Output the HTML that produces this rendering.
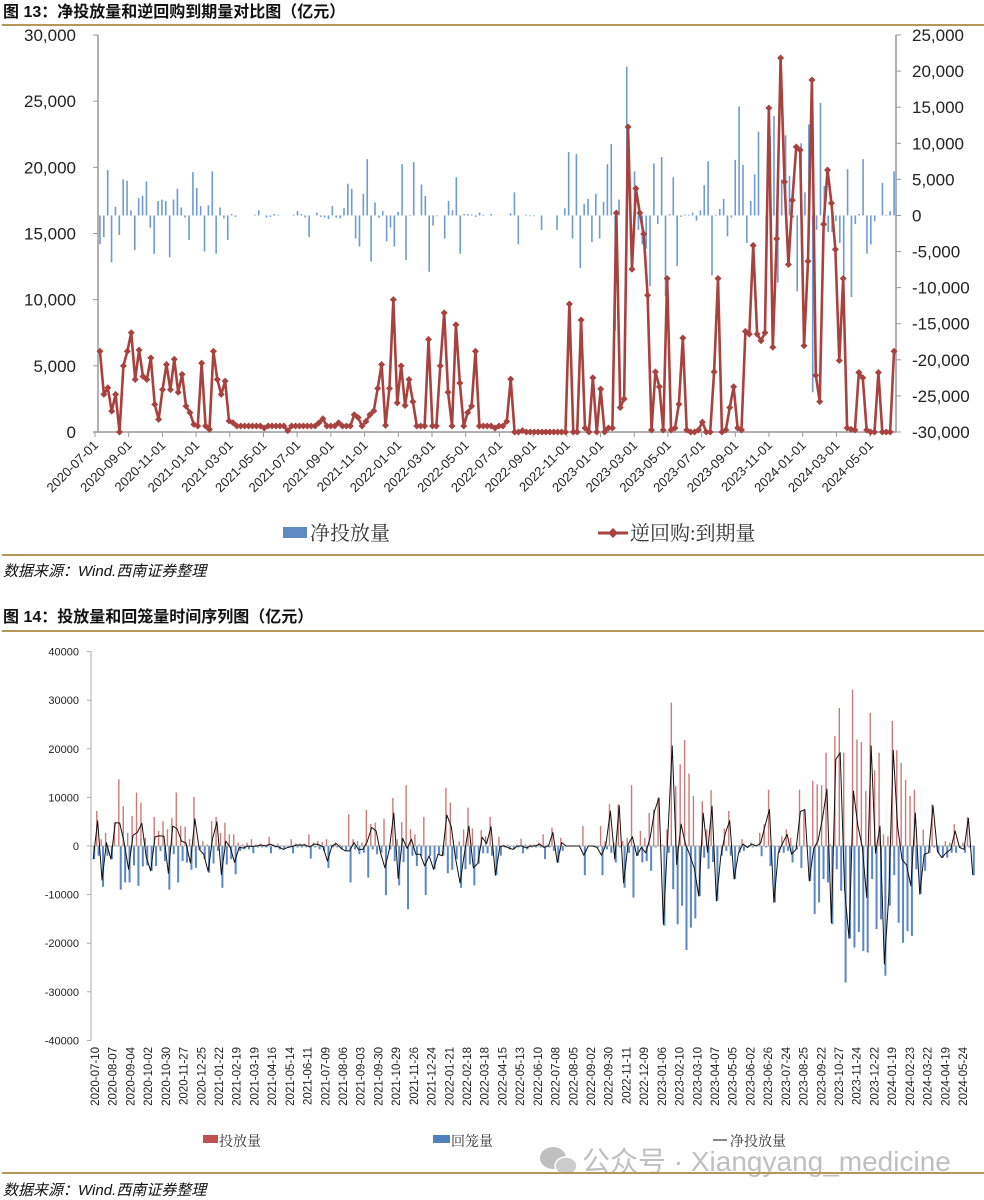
<!DOCTYPE html>
<html><head><meta charset="utf-8">
<style>
html,body{margin:0;padding:0;background:#fff;}
svg{display:block;}
.num{font-family:"Liberation Sans",Arial,sans-serif;}
.cjk{font-family:"Liberation Sans","Noto Sans CJK SC",sans-serif;}
.serif{font-family:"Liberation Serif","Noto Serif CJK SC",serif;}
</style></head>
<body>
<svg id="root" width="984" height="1200" viewBox="0 0 984 1200" xmlns="http://www.w3.org/2000/svg">
  <text x="3" y="17" class="cjk" font-size="16" font-weight="bold" fill="#111">图 13：净投放量和逆回购到期量对比图（亿元）</text>
  <line x1="2" y1="25" x2="984" y2="25" stroke="#b8965a" stroke-width="2"/>
  <g id="c1"></g>
  <g>
    <rect x="283" y="527" width="24" height="11" fill="#5f8ac4"/>
    <text x="310" y="540" class="serif" font-size="20" fill="#333">净投放量</text>
    <line x1="598" y1="533" x2="628" y2="533" stroke="#a8423f" stroke-width="3"/>
    <path d="M613 528 L618 533 L613 538 L608 533 Z" fill="#a8423f"/>
    <text x="630" y="540" class="serif" font-size="20" fill="#333">逆回购:到期量</text>
  </g>
  <line x1="2" y1="555" x2="984" y2="555" stroke="#b8965a" stroke-width="2"/>
  <text x="3" y="576" class="cjk" font-size="15" font-style="italic" fill="#111">数据来源：Wind.西南证券整理</text>

  <text x="3" y="622" class="cjk" font-size="16" font-weight="bold" fill="#111">图 14：投放量和回笼量时间序列图（亿元）</text>
  <line x1="2" y1="631" x2="984" y2="631" stroke="#b8965a" stroke-width="2"/>
  <g id="c2"></g>
  <g>
    <rect x="203" y="1135" width="15" height="8" fill="#c0504d"/>
    <text x="219" y="1146" class="serif" font-size="14" fill="#333">投放量</text>
    <rect x="433" y="1135" width="17" height="8" fill="#4f81bd"/>
    <text x="451" y="1146" class="serif" font-size="14" fill="#333">回笼量</text>
    <line x1="713" y1="1140" x2="727" y2="1140" stroke="#111" stroke-width="1"/>
    <text x="730" y="1146" class="serif" font-size="14" fill="#333">净投放量</text>
  </g>
  <g opacity="0.75">
    <ellipse cx="553" cy="1158" rx="13" ry="11" fill="#aaa"/>
    <ellipse cx="566" cy="1166" rx="11" ry="9" fill="#bbb" stroke="#fff" stroke-width="1.5"/>
    <text x="582" y="1171" class="cjk" font-size="28" fill="#aaa">公众号 · Xiangyang_medicine</text>
  </g>
  <line x1="2" y1="1173" x2="984" y2="1173" stroke="#b8965a" stroke-width="2"/>
  <text x="3" y="1195" class="cjk" font-size="15" font-style="italic" fill="#111">数据来源：Wind.西南证券整理</text>
</svg>
<script>
// ---------- Chart 13 data ----------
const c1LeftTicks = ["0","5,000","10,000","15,000","20,000","25,000","30,000"];
const c1LeftVals = [0,5000,10000,15000,20000,25000,30000];
const c1RightTicks = ["-30,000","-25,000","-20,000","-15,000","-10,000","-5,000","0","5,000","10,000","15,000","20,000","25,000"];
const c1RightVals = [-30000,-25000,-20000,-15000,-10000,-5000,0,5000,10000,15000,20000,25000];
const c1Dates = ["2020-07-01","2020-09-01","2020-11-01","2021-01-01","2021-03-01","2021-05-01","2021-07-01","2021-09-01","2021-11-01","2022-01-01","2022-03-01","2022-05-01","2022-07-01","2022-09-01","2022-11-01","2023-01-01","2023-03-01","2023-05-01","2023-07-01","2023-09-01","2023-11-01","2024-01-01","2024-03-01","2024-05-01"];
const repoMaturity = [6100,2840,3340,1580,2840,0,5000,6100,7500,3970,6200,4200,3970,5600,2090,950,3200,5100,3200,5500,3000,4350,1960,1460,580,450,5200,450,200,6100,3970,2840,3840,830,700,450,450,450,450,450,450,450,300,450,450,450,450,450,100,450,450,450,450,450,450,450,700,1000,450,450,450,700,450,450,450,1300,1100,450,800,1300,1600,3300,5100,500,3300,10000,2200,5000,2000,3970,2300,450,450,450,7000,450,450,5000,9000,3000,450,8100,3700,450,1460,1960,6100,450,450,450,450,300,450,450,
800,4000,0,0,100,0,0,0,0,0,0,0,0,0,0,0,9670,0,0,8460,300,0,4100,0,3250,0,300,300,16550,1850,2500,23050,12300,18400,16550,14960,10330,150,4540,3420,150,11600,150,300,2100,7100,150,0,0,150,750,0,0,4540,11600,0,150,1850,3420,300,150,7600,7400,14100,7400,6900,7500,24480,6400,14600,28260,18900,12660,17520,21550,21300,6520,12900,26600,4280,2300,15700,19800,17300,13800,5400,11600,300,200,150,4500,4100,150,0,0,4500,0,0,0,6100];
const netInjection13 = [-4000,-3000,6300,-6500,1200,-2700,5000,4800,700,-4800,2400,2700,4700,-1700,-5300,2000,2200,2000,-5800,2200,3700,1100,-300,-3400,6000,3800,1300,-5000,1400,6100,-5300,1100,-400,-3400,200,-200,null,null,null,null,100,700,null,-300,-200,200,100,null,null,null,100,600,200,-300,-3000,null,400,-200,-300,-500,1300,-300,-400,1000,4400,3700,-3200,-4300,3000,7800,-6400,1800,-300,600,-3600,-1700,-4300,500,7100,-6200,100,7400,null,4300,2700,-7800,-1400,0,null,-3200,2000,700,5300,-5300,200,200,100,-200,400,100,
null,200,null,null,null,null,300,3200,-4000,null,100,-100,-100,null,-2000,null,null,null,-2000,null,1000,8800,-3200,8500,-7300,1600,2300,-3700,3000,-3200,1900,7100,9900,-16000,2200,null,20600,-3300,6100,-2000,-4000,-4600,-9800,7200,-1200,8100,-11200,200,5300,-7000,-200,100,100,400,-700,700,4200,7500,-8300,100,900,2300,-2900,-300,7700,15100,7000,-3800,2000,5700,11600,null,-9800,11000,13800,-9300,5000,11100,5500,-300,-10500,10000,3200,12600,-24500,-2000,15600,4100,-2300,-2300,-800,-3800,-8500,6400,-11300,-1200,200,7800,-5300,-4000,-800,null,4500,100,600,6100];

// ---------- Chart 14 data ----------
const c2TickVals = [40000,30000,20000,10000,0,-10000,-20000,-30000,-40000];
const c2TickLabels = ["40000","30000","20000","10000","0","-10000","-20000","-30000","-40000"];
const c2Dates = ["2020-07-10","2020-08-07","2020-09-04","2020-10-02","2020-10-30","2020-11-27","2020-12-25","2021-01-22","2021-02-19","2021-03-19","2021-04-16","2021-05-14","2021-06-11","2021-07-09","2021-08-06","2021-09-03","2021-09-30","2021-10-29","2021-11-26","2021-12-24","2022-01-21","2022-02-18","2022-03-18","2022-04-15","2022-05-13","2022-06-10","2022-07-08","2022-08-05","2022-09-02","2022-09-30","2022-11-11","2022-12-09","2023-01-06","2023-02-10","2023-03-10","2023-04-07","2023-05-05","2023-06-02","2023-06-26","2023-07-24","2023-08-25","2023-09-22","2023-10-27","2023-11-24","2023-12-22","2024-01-19","2024-02-23","2024-03-22","2024-04-19","2024-05-24"];
const injection = [0,7200,1400,2700,0,4800,13700,8200,2700,6200,11000,8900,1700,0,6000,3100,5100,3400,5800,11000,4100,4000,1400,10100,0,1000,300,5100,6000,2700,4800,2400,2400,700,300,700,1400,300,500,300,1900,300,500,0,0,1400,500,500,500,2400,700,1000,800,1400,300,800,300,0,6500,1400,1000,700,7400,4500,4800,0,5600,0,9900,1400,4900,12500,3400,2400,300,6000,0,0,0,0,12000,8900,0,1000,3400,7900,3600,0,3300,2000,6000,0,1900,300,300,0,300,1500,300,300,
300,700,2400,300,3800,0,1700,0,0,0,0,4100,0,0,0,4100,1000,8600,700,8600,1000,1700,12500,0,3100,1700,6800,7500,9900,300,3400,29500,12300,16800,21800,14900,10300,0,9200,3400,11500,0,0,3600,7200,0,0,1400,0,700,0,2700,4500,11600,0,0,2000,3400,1700,0,11600,7500,0,13400,12700,12500,19200,300,22600,28400,19200,0,32200,21900,21400,11300,27400,15600,19200,2400,2000,25700,19700,17100,13600,10300,11600,0,3400,0,8600,300,0,1000,700,4500,0,700,6000,0];
const withdrawal = [-2700,-2000,-8400,-2000,-2700,0,-9000,-7500,-7500,-4000,-8200,-4200,-4000,-5100,-4100,-1000,-3100,-9000,-1700,-7500,-3100,-3400,-4900,-4500,-700,-2700,-5500,-3600,-1000,-8600,-3800,-2700,-5800,-1000,-700,-700,-1500,-300,-300,-300,-1500,-300,-700,-700,-300,-1500,-300,-300,-300,-2600,-300,-700,-1000,-4500,-300,-300,-700,-1000,-7500,-700,-1700,-1400,-6500,-700,-1700,-1400,-10100,-700,-3100,-8100,-3300,-13000,-2000,-4100,-2000,-10100,-2000,-4800,-1700,-2000,-5600,-4900,-2700,-8600,-4800,-3800,-8100,-3600,-1500,-1500,-2000,-6000,-2000,-300,-700,-700,-300,-1500,-700,-300,
-300,-300,-2700,-300,-1000,-3400,-1000,0,0,0,0,-6000,0,0,-300,-6000,-700,-1400,-3400,-300,-8600,-1400,-10600,-2000,-3400,-3100,-5100,-300,0,-16400,-1400,-8900,-16100,-12300,-21400,-16800,-14900,-10300,-2400,-4700,-3300,-11300,-2000,-1000,-2000,-6800,-1400,-1000,-300,-300,0,-2100,-300,-4100,-11600,-1400,-1400,-1000,-3400,-700,-4500,0,-7200,-14000,-11600,-6800,-7500,-16100,-4800,-9200,-28100,-19000,-20900,-17700,-21600,-21900,-6800,-17100,-15100,-26700,-12300,-6000,-15800,-19900,-17500,-18500,-4800,-9900,-5100,-1400,-300,-1400,-2400,-2400,-1400,-1400,-300,-1400,-300,-6000];

const NS = "http://www.w3.org/2000/svg";
function mk(tag, attrs, parent){ const e=document.createElementNS(NS,tag); for(const k in attrs) e.setAttribute(k,attrs[k]); parent.appendChild(e); return e; }

// ----- Chart 13 -----
(function(){
  const g = document.getElementById('c1');
  const X0=98, X1=896, YT=35, YB=432;
  const yL = v => YB - v/30000*(YB-YT);
  const yR = v => YB - (v+30000)/55000*(YB-YT);
  const xAt = (i,n) => X0 + (i+0.5)*(X1-X0)/n;
  const tickX = i => 95 + i*33.7;

  const la = mk('line',{x1:X0,y1:YT,x2:X0,y2:YB,stroke:'#999','stroke-width':1.5},g);
   
  const ra = mk('line',{x1:X1,y1:YT,x2:X1,y2:YB,stroke:'#999','stroke-width':1.5},g);
   
  const xa = mk('line',{x1:X0-5,y1:YB,x2:X1,y2:YB,stroke:'#999','stroke-width':1.5},g);
   

  c1LeftVals.forEach((v,i)=>{
    const y=yL(v);
    mk('line',{x1:X0-5,y1:y,x2:X0,y2:y,stroke:'#999'},g);
    const t=mk('text',{x:76,y:y+6,'text-anchor':'end','font-size':17,fill:'#222',class:'num'},g);
    t.textContent=c1LeftTicks[i];
     
  });
  c1RightVals.forEach((v,i)=>{
    const y=yR(v);
    mk('line',{x1:X1,y1:y,x2:X1+5,y2:y,stroke:'#999'},g);
    const t=mk('text',{x:912,y:y+6,'text-anchor':'start','font-size':17,fill:'#222',class:'num'},g);
    t.textContent=c1RightTicks[i];
     
  });
  c1Dates.forEach((d,i)=>{
    const x=tickX(i);
    mk('line',{x1:x,y1:YB,x2:x,y2:YB+5,stroke:'#999'},g);
    const t=mk('text',{x:x+4,y:YB+14,'text-anchor':'end','font-size':13,fill:'#222',class:'num',transform:`rotate(-45 ${x+4} ${YB+14})`},g);
    t.textContent=d;
     
  });

  const nB = netInjection13.length;
  netInjection13.forEach((v,i)=>{
    if(v===null) return;
    const x=xAt(i,nB), y0=yR(0), y=yR(v);
    const r=mk('rect',{x:x-0.8,y:Math.min(y0,y),width:1.6,height:Math.max(0.8,Math.abs(y-y0)),fill:'#6f9bd1'},g);
     
  });

  const nR = repoMaturity.length;
  const pts = repoMaturity.map((v,i)=>[xAt(i,nR), yL(v)]);
  const pl = mk('polyline',{points:pts.map(p=>p.join(',')).join(' '),fill:'none',stroke:'#a8423f','stroke-width':2.6,'stroke-linejoin':'round'},g);
   
  pts.forEach(p=>{
    const m=mk('path',{d:`M${p[0]} ${p[1]-3.5} L${p[0]+3.5} ${p[1]} L${p[0]} ${p[1]+3.5} L${p[0]-3.5} ${p[1]} Z`,fill:'#a8423f'},g);
     
  });
})();

// ----- Chart 14 -----
(function(){
  const g = document.getElementById('c2');
  const X0=91, X1=975, YZ=846, S=48.6;
  const y = v => YZ - v/10000*S;
  const n = injection.length;
  const xAt = i => X0 + (i+0.5)*(X1-X0)/n;
  const step = (963-95)/(c2Dates.length-1);
  const tickX = i => 95 + i*step;

  const ya = mk('line',{x1:X0,y1:y(40000),x2:X0,y2:y(-40000),stroke:'#aaa','stroke-width':1},g);
   
  c2TickVals.forEach((v,i)=>{
    const yy=y(v);
    mk('line',{x1:X0-4,y1:yy,x2:X0,y2:yy,stroke:'#aaa'},g);
    const t=mk('text',{x:79,y:yy+4,'text-anchor':'end','font-size':11,fill:'#222',class:'num'},g);
    t.textContent=c2TickLabels[i];
     
  });
  c2Dates.forEach((d,i)=>{
    const x=tickX(i);
    const t=mk('text',{x:x+4,y:1047,'text-anchor':'end','font-size':11.5,fill:'#222',class:'num',transform:`rotate(-90 ${x+4} 1047)`},g);
    t.textContent=d;
     
  });

  injection.forEach((v,i)=>{
    if(!v) return;
    const x=xAt(i);
    const r=mk('rect',{x:x-1.6,y:y(v),width:1.4,height:YZ-y(v),fill:'#cc7b78'},g);
     
  });
  withdrawal.forEach((v,i)=>{
    if(!v) return;
    const x=xAt(i);
    const r=mk('rect',{x:x,y:YZ,width:2,height:y(v)-YZ,fill:'#5b88c4'},g);
     
  });
  const za = mk('line',{x1:X0,y1:YZ,x2:X1,y2:YZ,stroke:'#aaa','stroke-width':1},g);
   

  const pts = injection.map((v,i)=>[xAt(i), y(v + (withdrawal[i]||0))]);
  const pl = mk('polyline',{points:pts.map(p=>p.join(',')).join(' '),fill:'none',stroke:'#111','stroke-width':1,'stroke-linejoin':'round'},g);
   
})();
</script>
</body></html>
